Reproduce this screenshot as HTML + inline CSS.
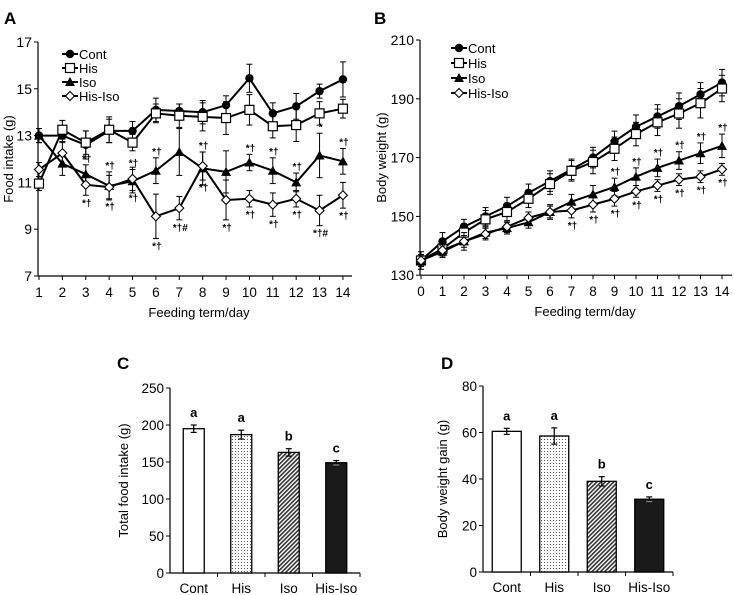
<!DOCTYPE html>
<html><head><meta charset="utf-8">
<style>
html,body{margin:0;padding:0;background:#fff;}
svg{display:block;font-family:"Liberation Sans",Arial,sans-serif;}
</style></head>
<body>
<svg id="fig" width="734" height="595" viewBox="0 0 734 595">
<defs>
<pattern id="dots" width="3" height="3" patternUnits="userSpaceOnUse"><rect width="3" height="3" fill="#fff"/><rect x="1" y="1" width="1" height="1" fill="#555"/></pattern>
<pattern id="hatch" width="3" height="3" patternUnits="userSpaceOnUse" patternTransform="rotate(45)"><rect width="3" height="3" fill="#fff"/><rect width="1.6" height="3" fill="#333"/></pattern>
</defs>
</svg>
<script>
// ---- Panel A data ----
const daysA = [1,2,3,4,5,6,7,8,9,10,11,12,13,14];
const aCont = [13.0,13.0,12.6,13.2,13.2,14.1,14.05,14.0,14.3,15.45,13.95,14.25,14.9,15.4];
const aContErr = [0.3,0.3,0.6,0.5,0.4,0.5,0.3,0.5,0.4,0.6,0.45,0.55,0.3,0.75];
const aHis = [10.95,13.25,12.7,13.25,12.7,13.95,13.85,13.8,13.75,14.1,13.4,13.45,13.95,14.15];
const aHisErr = [0.3,0.4,0.5,0.55,0.35,0.4,0.5,0.6,0.7,0.65,0.5,0.7,0.5,0.4];
const aIso = [13.0,11.8,11.35,10.85,11.05,11.5,12.3,11.6,11.45,11.85,11.5,11.0,12.15,11.9];
const aIsoErr = [0.3,0.5,0.4,0.6,0.5,0.55,1.0,0.7,0.9,0.35,0.55,0.4,0.95,0.55];
const aHI = [11.55,12.25,10.9,10.8,11.15,9.55,9.9,11.7,10.25,10.3,10.05,10.3,9.8,10.45];
const aHIErr = [0.3,0.5,0.45,0.5,0.5,0.95,0.5,0.6,0.85,0.35,0.5,0.35,0.65,0.55];
const aTicks = [7,9,11,13,15,17];
const aIsoMarks = ["","","*†","*†","*†","*†","","*†","","*†","*†","*†","*","*†"];
const aHIMarks = ["","","*†","*†","*†","*†","*†#","*†","*†","*†","*†","*†","*†#","*†"];
// ---- Panel B data ----
const daysB = [0,1,2,3,4,5,6,7,8,9,10,11,12,13,14];
const bCont = [135,141.5,146.5,150,153.5,158,162,166,170,175.5,180.5,184,187.5,191.5,195.5];
const bContErr = [3,3,2.5,3,3,3,3.5,3.5,3.5,3.5,4,4,4.5,4,4.5];
const bHis = [135,139,144.5,149,151.5,156,161,165.5,168.5,173,178,182,185,188.5,193.5];
const bHisErr = [2,2,3,3,3,3,3.5,3.5,4,4,4,4.5,5,5,4.5];
const bIso = [135,138,141.5,144.5,146,148,151.5,155,157.5,160,163.5,166.5,169,171.5,174];
const bIsoErr = [2,2,2,2,2,2,2.5,2.5,3,3,3,3,3,3.5,4];
const bHI = [135,138.5,141.5,144,146.5,149.5,151.5,152,154,156,158.5,160.5,162.5,163.5,166];
const bHIErr = [2,2,3,2,2,2,2,2.5,2.5,2.5,2,2,2,2,2];
const bTicks = [130,150,170,190,210];
const bIsoMarks = ["","","","","","","","","","*†","*†","*†","*†","*†","*†"];
const bHIMarks = ["","","","","","","","*†","*†","*†","*†","*†","*†","*†","*†"];
// ---- Panel C/D data ----
const groups = ["Cont","His","Iso","His-Iso"];
const cVals = [195,187,163,149];
const cErr = [5,6,5,3];
const cLetters = ["a","a","b","c"];
const cTicks = [0,50,100,150,200,250];
const dVals = [60.5,58.5,39,31.3];
const dErr = [1.3,3.5,2,1];
const dLetters = ["a","a","b","c"];
const dTicks = [0,20,40,60,80];

const svg = document.getElementById('fig');
const NS = 'http://www.w3.org/2000/svg';
function el(tag, attrs, parent){ const e=document.createElementNS(NS,tag); for(const k in attrs) e.setAttribute(k,attrs[k]); (parent||svg).appendChild(e); return e; }
function txt(s, attrs, parent){ const e=el('text',attrs,parent); e.textContent=s; return e; }

function marker(g, type, x, y){
  let m;
  if(type==='circle') m=el('circle',{cx:x,cy:y,r:4.2,fill:'#000'},g);
  else if(type==='square') m=el('rect',{x:x-4.5,y:y-4.5,width:9,height:9,fill:'#fff',stroke:'#000','stroke-width':1.2},g);
  else if(type==='tri') m=el('polygon',{points:`${x},${y-5} ${x-5},${y+4} ${x+5},${y+4}`,fill:'#000'},g);
  else m=el('polygon',{points:`${x},${y-4.5} ${x+4.5},${y} ${x},${y+4.5} ${x-4.5},${y}`,fill:'#fff',stroke:'#000','stroke-width':1.1},g);
  return m;
}

function linePanel(o){
  const g=el('g',{});
  
  
  const X=d=>o.x0+(d-o.dmin)*o.dx, Y=v=>o.yTop+(o.vmax-v)*o.ky;
  // axes
  const ax=el('g',{},g);
  
  
  el('line',{x1:o.axX,y1:Y(o.vmax),x2:o.axX,y2:Y(o.vmin),stroke:'#000','stroke-width':1.2},ax);
  o.ticks.forEach(t=>{
    el('line',{x1:o.axX-4,y1:Y(t),x2:o.axX,y2:Y(t),stroke:'#000'},ax);
    const l=txt(String(t),{x:o.axX-6,y:Y(t)+5,'text-anchor':'end','font-size':14},ax);
    
    
  });
  const xa=el('g',{},g);
  
  
  el('line',{x1:o.axX,y1:Y(o.vmin),x2:o.axEnd,y2:Y(o.vmin),stroke:'#000','stroke-width':1.2},xa);
  o.days.forEach(d=>{
    el('line',{x1:X(d),y1:Y(o.vmin),x2:X(d),y2:Y(o.vmin)+4,stroke:'#000'},xa);
    const l=txt(String(d),{x:X(d),y:Y(o.vmin)+21,'text-anchor':'middle','font-size':13.5},xa);
    
    
  });
  const xt=txt('Feeding term/day',{x:o.xTitleX,y:Y(o.vmin)+41,'text-anchor':'middle','font-size':13},g);
  
  
  const cy=(Y(o.vmin)+Y(o.vmax))/2;
  const yt=txt(o.ytitle,{x:0,y:0,'text-anchor':'middle','font-size':13,transform:`translate(${o.yTitleX},${cy}) rotate(-90)`},g);
  
  
  const pl=txt(o.letter,{x:o.letterX,y:24,'font-size':17,'font-weight':'bold'},g);
  
  
  // series
  o.series.forEach(s=>{
    const sg=el('g',{},g);
    
    
    s.vals.forEach((v,i)=>{
      const x=X(o.days[i]), e=s.err[i];
      el('line',{x1:x,y1:Y(v+e),x2:x,y2:Y(v-e),stroke:'#000','stroke-width':1},sg);
      el('line',{x1:x-3,y1:Y(v+e),x2:x+3,y2:Y(v+e),stroke:'#000'},sg);
      el('line',{x1:x-3,y1:Y(v-e),x2:x+3,y2:Y(v-e),stroke:'#000'},sg);
    });
    const pts=s.vals.map((v,i)=>X(o.days[i])+','+Y(v)).join(' ');
    el('polyline',{points:pts,fill:'none',stroke:'#000','stroke-width':2},sg);
    s.vals.forEach((v,i)=>{
      const m=marker(sg,s.type,X(o.days[i]),Y(v));
      
      
    });
    if(s.marks) s.vals.forEach((v,i)=>{
      if(!s.marks[i]) return;
      const yy = s.above ? Y(v+s.err[i])-3 : Y(v-s.err[i])+11;
      const a=txt(s.marks[i],{x:X(o.days[i])+1,y:yy,'text-anchor':'middle','font-size':10,'font-weight':'bold'},sg);
      
      
    });
  });
  // legend
  const lg=el('g',{},g);
  
  
  o.series.forEach((s,i)=>{
    const ly=o.legY+i*o.legDy;
    const le=el('g',{},lg);
    
    
    el('line',{x1:o.legX,y1:ly,x2:o.legX+16,y2:ly,stroke:'#000','stroke-width':2},le);
    marker(le,s.type,o.legX+8,ly);
    txt(s.label,{x:o.legX+17,y:ly+5,'font-size':13},le);
  });
}

linePanel({name:'panel-a-food-intake',days:daysA,dmin:1,x0:39,dx:23.38,yTop:42,vmax:17,vmin:7,ky:23.4,
  axX:38,axEnd:352,ticks:aTicks,ytitle:'Food intake (g)',yTitleX:13,xTitleX:199,letter:'A',letterX:4,
  legX:62,legY:54,legDy:14,
  series:[
    {key:'cont',label:'Cont',type:'circle',vals:aCont,err:aContErr},
    {key:'his',label:'His',type:'square',vals:aHis,err:aHisErr},
    {key:'iso',label:'Iso',type:'tri',vals:aIso,err:aIsoErr,marks:aIsoMarks,above:true},
    {key:'his-iso',label:'His-Iso',type:'diamond',vals:aHI,err:aHIErr,marks:aHIMarks,above:false}
  ]});
linePanel({name:'panel-b-body-weight',days:daysB,dmin:0,x0:421,dx:21.5,yTop:40,vmax:210,vmin:130,ky:2.94,
  axX:420,axEnd:732,ticks:bTicks,ytitle:'Body weight (g)',yTitleX:386,xTitleX:585,letter:'B',letterX:374,
  legX:451,legY:48,legDy:15,
  series:[
    {key:'cont',label:'Cont',type:'circle',vals:bCont,err:bContErr},
    {key:'his',label:'His',type:'square',vals:bHis,err:bHisErr},
    {key:'iso',label:'Iso',type:'tri',vals:bIso,err:bIsoErr,marks:bIsoMarks,above:true},
    {key:'his-iso',label:'His-Iso',type:'diamond',vals:bHI,err:bHIErr,marks:bHIMarks,above:false}
  ]});

function barPanel(o){
  const g=el('g',{});
  
  
  const Y=v=>o.y0-(v/o.vmax)*(o.y0-o.yTop);
  const gw=(o.axEnd-o.axX)/groups.length;
  const ax=el('g',{},g);
  
  
  el('line',{x1:o.axX,y1:o.yTop,x2:o.axX,y2:o.y0,stroke:'#000','stroke-width':1.2},ax);
  o.ticks.forEach(t=>{
    el('line',{x1:o.axX-4,y1:Y(t),x2:o.axX,y2:Y(t),stroke:'#000'},ax);
    const l=txt(String(t),{x:o.axX-6,y:Y(t)+5,'text-anchor':'end','font-size':13.5},ax);
    
    
  });
  const xa=el('g',{},g);
  
  
  el('line',{x1:o.axX,y1:o.y0,x2:o.axEnd,y2:o.y0,stroke:'#000','stroke-width':1.2},xa);
  const fills=['#fff','url(#dots)','url(#hatch)','#1a1a1a'];
  groups.forEach((c,i)=>{
    const cx=o.axX+gw*(i+0.5);
    el('line',{x1:o.axX+gw*(i+1),y1:o.y0,x2:o.axX+gw*(i+1),y2:o.y0+4,stroke:'#000'},xa);
    const l=txt(c,{x:cx,y:o.y0+20,'text-anchor':'middle','font-size':13.5},xa);
    
    
    const v=o.vals[i], e=o.err[i];
    const b=el('rect',{x:cx-o.bw/2,y:Y(v),width:o.bw,height:o.y0-Y(v),fill:fills[i],stroke:'#000','stroke-width':1.3},g);
    
    
    const ec=i===3?'#fff':'#000';
    el('line',{x1:cx,y1:Y(v+e),x2:cx,y2:Y(v-e),stroke:'#000','stroke-width':1.2},g);
    el('line',{x1:cx-3,y1:Y(v+e),x2:cx+3,y2:Y(v+e),stroke:'#000','stroke-width':1.2},g);
    el('line',{x1:cx-3,y1:Y(v-e),x2:cx+3,y2:Y(v-e),stroke:i===3?'#888':'#000','stroke-width':1.2},g);
    const lt=txt(o.letters[i],{x:cx,y:Y(v+e)-8,'text-anchor':'middle','font-size':13,'font-weight':'bold'},g);
    
    
  });
  const yt=txt(o.ytitle,{x:0,y:0,'text-anchor':'middle','font-size':13,transform:`translate(${o.yTitleX},${(o.y0+o.yTop)/2}) rotate(-90)`},g);
  
  
  const pl=txt(o.letter,{x:o.letterX,y:369,'font-size':17,'font-weight':'bold'},g);
  
  
}
barPanel({name:'panel-c-total-food-intake',vals:cVals,err:cErr,letters:cLetters,ticks:cTicks,vmax:250,
  axX:170,axEnd:360,y0:573,yTop:388,bw:21,ytitle:'Total food intake (g)',yTitleX:128,letter:'C',letterX:117});
barPanel({name:'panel-d-body-weight-gain',vals:dVals,err:dErr,letters:dLetters,ticks:dTicks,vmax:80,
  axX:483,axEnd:673,y0:572,yTop:386,bw:29,ytitle:'Body weight gain (g)',yTitleX:447,letter:'D',letterX:441});
</script>
</body></html>
